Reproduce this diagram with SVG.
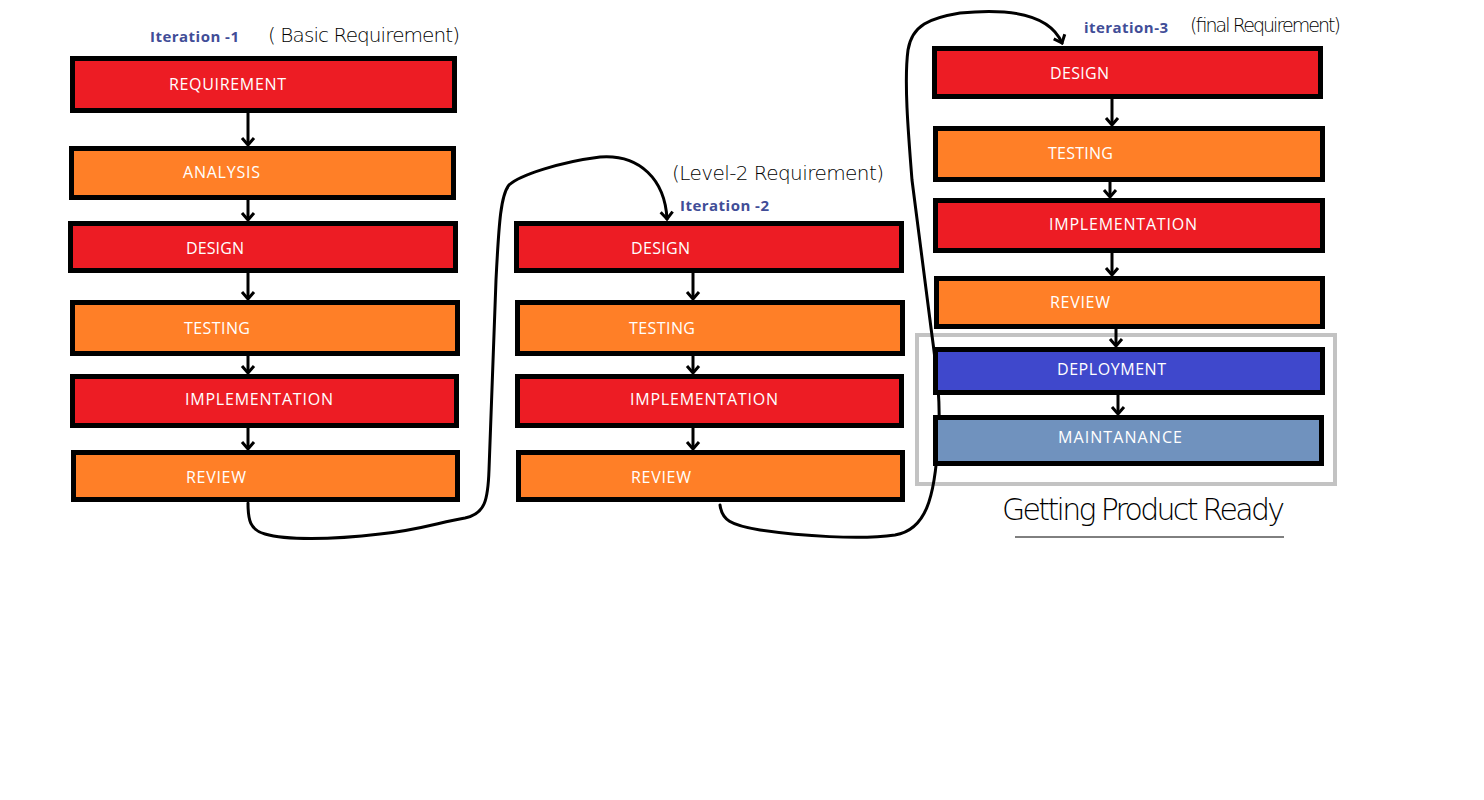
<svg xmlns="http://www.w3.org/2000/svg" width="1484" height="800" viewBox="0 0 1484 800">
<style>
.box{stroke:#000;stroke-width:5}
.red{fill:#ed1c24}
.org{fill:#ff7f27}
.blu{fill:#3f48cc}
.stl{fill:#7092be}
.lbl{font-family:"Open Sans","Liberation Sans",sans-serif;font-size:16px;fill:#fff}
.it{font-family:"Open Sans","Liberation Sans",sans-serif;font-size:15px;font-weight:bold;fill:#414d97}
.hw{font-family:"DejaVu Sans","Liberation Sans",sans-serif;font-weight:200;fill:#000}
.con{fill:none;stroke:#000;stroke-width:3}
.cur{fill:none;stroke:#000;stroke-width:3;stroke-linecap:round}
</style>
<defs>
<marker id="ah" markerUnits="userSpaceOnUse" markerWidth="20" markerHeight="20" refX="0" refY="0" viewBox="-10 -10 20 20" orient="auto" overflow="visible">
<path d="M-7,-6 L0,0 L-7,6" fill="none" stroke="#000" stroke-width="3"/>
</marker>
</defs>
<rect width="1484" height="800" fill="#fff"/>

<g id="labels">
<text class="it" x="150" y="42" textLength="89">Iteration -1</text>
<text class="it" x="680" y="211" textLength="89">Iteration -2</text>
<text class="it" x="1084" y="33" textLength="84">iteration-3</text>
<text class="hw" x="268" y="42" font-size="20" textLength="192">( Basic  Requirement)</text>
<text class="hw" x="672" y="180" font-size="20" textLength="212">(Level-2  Requirement)</text>
<text class="hw" x="1190" y="32" font-size="19" textLength="151">(final Requirement)</text>
<text class="hw" x="1002" y="520" font-size="30" textLength="283">Getting  Product  Ready</text>
<line x1="1015" y1="537" x2="1284" y2="537" stroke="#000" stroke-width="1"/>
</g>

<g id="iteration-3-group">
<rect id="product-ready-frame" x="917" y="335" width="418" height="149" fill="none" stroke="#c3c3c3" stroke-width="4"/>
</g>

<g id="connectors">
<line class="con" x1="248" y1="113" x2="248" y2="145" marker-end="url(#ah)"/>
<line class="con" x1="248" y1="200" x2="248" y2="220" marker-end="url(#ah)"/>
<line class="con" x1="248" y1="273" x2="248" y2="299" marker-end="url(#ah)"/>
<line class="con" x1="248" y1="356" x2="248" y2="373" marker-end="url(#ah)"/>
<line class="con" x1="248" y1="428" x2="248" y2="449" marker-end="url(#ah)"/>
<line class="con" x1="693" y1="273" x2="693" y2="299" marker-end="url(#ah)"/>
<line class="con" x1="693" y1="356" x2="693" y2="373" marker-end="url(#ah)"/>
<line class="con" x1="693" y1="428" x2="693" y2="449" marker-end="url(#ah)"/>
<line class="con" x1="1112" y1="99" x2="1112" y2="125" marker-end="url(#ah)"/>
<line class="con" x1="1110" y1="181" x2="1110" y2="197" marker-end="url(#ah)"/>
<line class="con" x1="1112" y1="252" x2="1112" y2="275" marker-end="url(#ah)"/>
<line class="con" x1="1116" y1="328" x2="1116" y2="346" marker-end="url(#ah)"/>
<line class="con" x1="1118" y1="394" x2="1118" y2="414" marker-end="url(#ah)"/>
<path class="cur" d="M248,503 C248,520 250,530 265,534 C285,540 330,540 380,534 C420,530 440,522 465,518 C485,514 488,500 489,470 L496,280 C499,220 501,195 509,185 C520,175 560,162 600,157 C640,154 665,180 667,219" marker-end="url(#ah)"/>
<path class="cur" d="M720,505 C722,520 730,525 760,530 C800,536 860,540 895,535 C925,530 935,500 938,440 C942,400 935,360 930,320 L912,180 C908,130 904,80 908,50 C912,25 930,18 960,13 C1010,8 1050,15 1062,43" marker-end="url(#ah)"/>
</g>

<g id="n-req1"><rect class="box red" x="72.5" y="58.5" width="382" height="52"/><text class="lbl" x="169" y="90" textLength="117">REQUIREMENT</text></g>
<g id="n-ana1"><rect class="box org" x="71.5" y="148.5" width="382" height="49"/><text class="lbl" x="183" y="178" textLength="77">ANALYSIS</text></g>
<g id="n-des1"><rect class="box red" x="70.5" y="223.5" width="385" height="47"/><text class="lbl" x="186" y="254" textLength="58">DESIGN</text></g>
<g id="n-tes1"><rect class="box org" x="72.5" y="302.5" width="385" height="51"/><text class="lbl" x="184" y="334" textLength="66">TESTING</text></g>
<g id="n-imp1"><rect class="box red" x="72.5" y="376.5" width="384" height="49"/><text class="lbl" x="185" y="405" textLength="148">IMPLEMENTATION</text></g>
<g id="n-rev1"><rect class="box org" x="73.5" y="452.5" width="384" height="47"/><text class="lbl" x="186" y="483" textLength="60">REVIEW</text></g>

<g id="n-des2"><rect class="box red" x="516.5" y="223.5" width="385" height="47"/><text class="lbl" x="631" y="254" textLength="59">DESIGN</text></g>
<g id="n-tes2"><rect class="box org" x="517.5" y="302.5" width="385" height="51"/><text class="lbl" x="629" y="334" textLength="66">TESTING</text></g>
<g id="n-imp2"><rect class="box red" x="517.5" y="376.5" width="384" height="49"/><text class="lbl" x="630" y="405" textLength="148">IMPLEMENTATION</text></g>
<g id="n-rev2"><rect class="box org" x="518.5" y="452.5" width="384" height="47"/><text class="lbl" x="631" y="483" textLength="60">REVIEW</text></g>

<g id="n-des3"><rect class="box red" x="934.5" y="48.5" width="386" height="48"/><text class="lbl" x="1050" y="79" textLength="59">DESIGN</text></g>
<g id="n-tes3"><rect class="box org" x="935.5" y="128.5" width="387" height="51"/><text class="lbl" x="1048" y="159" textLength="65">TESTING</text></g>
<g id="n-imp3"><rect class="box red" x="935.5" y="200.5" width="387" height="50"/><text class="lbl" x="1049" y="230" textLength="148">IMPLEMENTATION</text></g>
<g id="n-rev3"><rect class="box org" x="936.5" y="278.5" width="386" height="48"/><text class="lbl" x="1050" y="308" textLength="60">REVIEW</text></g>
<g id="n-dep3"><rect class="box blu" x="935.5" y="349.5" width="387" height="43"/><text class="lbl" x="1057" y="375" textLength="109">DEPLOYMENT</text></g>
<g id="n-mnt3"><rect class="box stl" x="935.5" y="417.5" width="386" height="46"/><text class="lbl" x="1058" y="443" textLength="124">MAINTANANCE</text></g>
</svg>
